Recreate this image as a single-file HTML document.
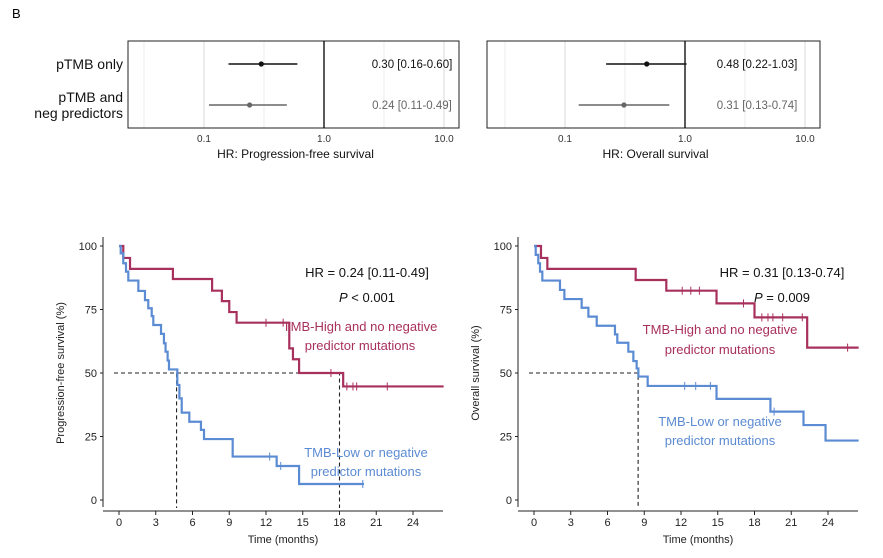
<!DOCTYPE html>
<html><head><meta charset="utf-8"><style>
body{margin:0;background:#fff;}
svg{display:block;font-family:"Liberation Sans",Arial,sans-serif;}
</style></head><body>
<svg id="c" width="883" height="558" viewBox="0 0 883 558">
<text x="12" y="18" font-size="13">B</text>
</svg>
<script>
// Forest data
const forestRows = ["pTMB only", "pTMB and\nneg predictors"];
const pfsHR = [0.30, 0.24], pfsLo = [0.16, 0.11], pfsHi = [0.60, 0.49];
const pfsTxt = ["0.30 [0.16-0.60]", "0.24 [0.11-0.49]"];
const osHR = [0.48, 0.31], osLo = [0.22, 0.13], osHi = [1.03, 0.74];
const osTxt = ["0.48 [0.22-1.03]", "0.31 [0.13-0.74]"];
const forestTicks = [0.1, 1.0, 10.0];
// KM data (event times in months, survival % after event)
const pfsHighT = [0.35,0.9,4.4,7.6,8.4,9.0,9.6,13.9,14.2,14.7,18.3];
const pfsHighS = [95.3,91,87,82.4,78.3,74,69.8,59.7,55.4,50,44.7];
const pfsHighCens = [12.0,13.4,17.3,18.6,19.1,19.4,21.9];
const pfsHighEnd = 26.5;
const pfsLowT = [0.14,0.35,0.57,0.76,1.58,2.12,2.39,2.67,2.8,3.43,3.67,3.8,3.97,4.08,4.76,4.93,5.12,5.74,6.69,6.94,9.28,12.87,14.7];
const pfsLowS = [97.1,93.2,89.9,86.4,82.3,78.7,75.5,72.4,68.9,65.4,61.7,58.4,54.9,51.4,45.3,40.0,34.4,30.8,27.6,24.0,17.1,13.4,6.3];
const pfsLowCens = [12.3,13.2,19.9];
const pfsLowEnd = 20.0;
const osHighT = [0.57,1.09,8.3,10.8,14.9,18.0,22.3];
const osHighS = [95.3,91,86.6,82.4,77.4,71.9,60];
const osHighCens = [12.1,12.8,13.5,17.1,18.6,19.1,19.5,20.3,21.9,25.6];
const osHighEnd = 26.5;
const osLowT = [0.14,0.35,0.49,0.68,2.12,2.48,3.89,4.44,5.12,6.61,6.8,7.7,8.11,8.38,8.52,9.28,14.9,19.3,22.0,23.8];
const osLowS = [96.5,93.2,89.9,86.4,82.7,79.1,75.7,72.2,68.6,65.2,61.9,58.4,54.7,51.8,48.6,44.9,39.8,34.8,29.5,23.4];
const osLowCens = [12.3,13.2,14.4,19.6];
const osLowEnd = 26.5;
const kmXTicks = [0,3,6,9,12,15,18,21,24];
const kmYTicks = [0,25,50,75,100];

const svg = document.getElementById('c');
const NS = 'http://www.w3.org/2000/svg';
function mk(tag, attrs, parent){const e=document.createElementNS(NS,tag);for(const k in attrs)e.setAttribute(k,attrs[k]);(parent||svg).appendChild(e);return e;}

function forest(x1, box, hr, lo, hi, txt, title, txtX, name){
  const g = mk('g',{});
  
  
  const X = v => x1 + 120*Math.log10(v);
  const top=41, bot=128, rowY=[64,105];
  [0.0316, 0.316, 3.16].forEach(v=>{const l=mk('line',{x1:X(v),x2:X(v),y1:top,y2:bot,stroke:'#ececec','stroke-width':1},g);
    
    });
  forestTicks.forEach(v=>{if(v!==1){const l=mk('line',{x1:X(v),x2:X(v),y1:top,y2:bot,stroke:'#d8d8d8','stroke-width':1},g);
    
    }});
  const r=mk('rect',{x:box[0],y:top,width:box[1]-box[0],height:bot-top,fill:'none',stroke:'#222','stroke-width':1},g);
  
  
  const ref=mk('line',{x1:X(1),x2:X(1),y1:top,y2:bot,stroke:'#000','stroke-width':1.3},g);
  
  
  const cols=['#111','#666'];
  hr.forEach((v,i)=>{
    const l=mk('line',{x1:X(lo[i]),x2:X(hi[i]),y1:rowY[i],y2:rowY[i],stroke:cols[i],'stroke-width':1.4},g);
    
    
    const c=mk('circle',{cx:X(v),cy:rowY[i],r:2.6,fill:cols[i]},g);
    
    
    const t=mk('text',{x:txtX,y:rowY[i]+4,'font-size':11.5,'text-anchor':'middle',fill:cols[i]},g);
    t.textContent=txt[i];
    
    
  });
  forestTicks.forEach(v=>{
    const t=mk('text',{x:X(v),y:142,'font-size':10,'text-anchor':'middle',fill:'#333'},g);
    t.textContent=v.toFixed(1);
    
    
  });
  const tt=mk('text',{x:(box[0]+box[1])/2+2,y:158,'font-size':12,'text-anchor':'middle',fill:'#111'},g);
  tt.textContent=title;
  
  
}
forest(324,[128,459],pfsHR,pfsLo,pfsHi,pfsTxt,'HR: Progression-free survival',412,'forest-plot-pfs');
forest(685,[487,820],osHR,osLo,osHi,osTxt,'HR: Overall survival',757,'forest-plot-os');
[[64,['pTMB only']],[105,['pTMB and','neg predictors']]].forEach(([y,lines])=>{
  const t=mk('text',{x:123,'font-size':14,'text-anchor':'end',fill:'#111'});
  
  
  lines.forEach((s,i)=>{const ts=mk('tspan',{x:123,y:(lines.length===1?y+5:y-3+i*16)},t);ts.textContent=s;});
});

function km(x0, axX, xEnd, ylabel, curves, medians, ann, name){
  const g=mk('g',{});
  
  
  const X=t=>x0+12.25*t, Y=s=>500-2.54*s;
  const ya=mk('line',{x1:axX,x2:axX,y1:237,y2:507,stroke:'#222','stroke-width':1},g);
  
  
  const xa=mk('line',{x1:axX,x2:xEnd,y1:511,y2:511,stroke:'#222','stroke-width':1},g);
  
  
  kmYTicks.forEach(v=>{
    const l=mk('line',{x1:axX-3,x2:axX,y1:Y(v),y2:Y(v),stroke:'#222'},g);
    
    
    const t=mk('text',{x:axX-6,y:Y(v)+4,'font-size':11,'text-anchor':'end',fill:'#222'},g);
    t.textContent=v;
    
    
  });
  kmXTicks.forEach(v=>{
    const l=mk('line',{x1:X(v),x2:X(v),y1:511,y2:515,stroke:'#222'},g);
    
    
    const t=mk('text',{x:X(v),y:526,'font-size':11,'text-anchor':'middle',fill:'#222'},g);
    t.textContent=v;
    
    
  });
  const xt=mk('text',{x:(axX+xEnd)/2+10,y:543,'font-size':11,'text-anchor':'middle',fill:'#222'},g);
  xt.textContent='Time (months)';
  
  
  const yt=mk('text',{x:0,y:0,'font-size':11,'text-anchor':'middle',fill:'#222',transform:`translate(${axX-39},373) rotate(-90)`},g);
  yt.textContent=ylabel;
  
  
  medians.forEach(m=>{
    const p=mk('path',{d:`M${X(0)-5},${Y(50)}H${X(m)}V${Y(0)+8}`,fill:'none',stroke:'#222','stroke-width':1.1,'stroke-dasharray':'4,3'},g);
    
    
  });
  curves.forEach(c=>{
    let d=`M${X(0)},${Y(100)}`;
    c.t.forEach((t,i)=>{d+=`H${X(t)}V${Y(c.s[i])}`;});
    d+=`H${X(c.end)}`;
    const p=mk('path',{d,fill:'none',stroke:c.col,'stroke-width':2.2},g);
    
    
    c.cens.forEach(ct=>{
      let sv=100; c.t.forEach((t,i)=>{if(t<=ct)sv=c.s[i];});
      const l=mk('line',{x1:X(ct),x2:X(ct),y1:Y(sv)-4,y2:Y(sv)+4,stroke:c.col,'stroke-width':1},g);
      
      
    });
  });
  ann.forEach(a=>{
    const t=mk('text',{x:a[0],y:a[1],'font-size':13,'text-anchor':'middle',fill:a[3]},g);
    t.innerHTML=a[2];
    
    
  });
}
const RED='#a8305c', BLUE='#5b8bd2';
km(119,103,443,'Progression-free survival (%)',[
  {t:pfsHighT,s:pfsHighS,cens:pfsHighCens,end:pfsHighEnd,col:RED,name:'curve-tmb-high'},
  {t:pfsLowT,s:pfsLowS,cens:pfsLowCens,end:pfsLowEnd,col:BLUE,name:'curve-tmb-low'}],
  [4.7,18.0],
  [[367,277,'HR = 0.24 [0.11-0.49]','#111','hr-annotation'],
   [367,302,'<tspan font-style="italic">P</tspan> &lt; 0.001','#111','p-value-annotation'],
   [360,331,'TMB-High and no negative',RED,'label-tmb-high'],
   [360,350,'predictor mutations',RED,'label-tmb-high-2'],
   [366,457,'TMB-Low or negative',BLUE,'label-tmb-low'],
   [366,476,'predictor mutations',BLUE,'label-tmb-low-2']],'km-plot-pfs');
km(534,518,858,'Overall survival (%)',[
  {t:osHighT,s:osHighS,cens:osHighCens,end:osHighEnd,col:RED,name:'curve-tmb-high'},
  {t:osLowT,s:osLowS,cens:osLowCens,end:osLowEnd,col:BLUE,name:'curve-tmb-low'}],
  [8.5],
  [[782,277,'HR = 0.31 [0.13-0.74]','#111','hr-annotation'],
   [782,302,'<tspan font-style="italic">P</tspan> = 0.009','#111','p-value-annotation'],
   [720,334,'TMB-High and no negative',RED,'label-tmb-high'],
   [720,354,'predictor mutations',RED,'label-tmb-high-2'],
   [720,426,'TMB-Low or negative',BLUE,'label-tmb-low'],
   [720,445,'predictor mutations',BLUE,'label-tmb-low-2']],'km-plot-os');
</script>
</body></html>
